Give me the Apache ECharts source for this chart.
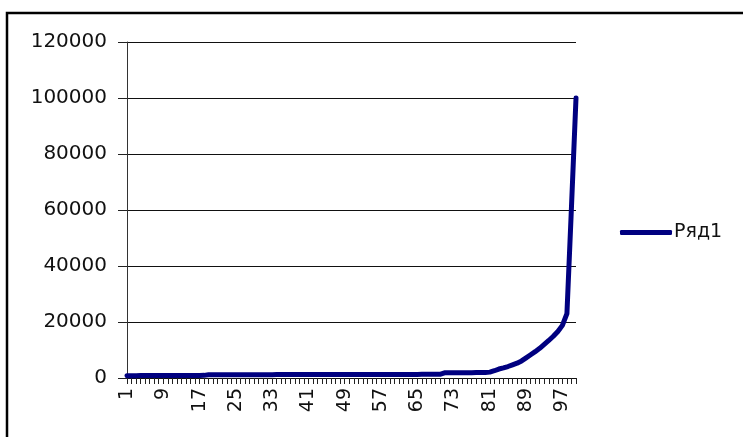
<!DOCTYPE html>
<html>
<head>
<meta charset="utf-8">
<script src="https://cdn.jsdelivr.net/npm/echarts@6/dist/echarts.min.js"></script>
<style>
  html, body { margin: 0; padding: 0; background: #fff; }
  #chart { width: 743px; height: 437px; }
</style>
</head>
<body>
<div id="chart"></div>
<script>
// Category labels (sample number)
const categories = [
  '1','2','3','4','5','6','7','8','9','10',
  '11','12','13','14','15','16','17','18','19','20',
  '21','22','23','24','25','26','27','28','29','30',
  '31','32','33','34','35','36','37','38','39','40',
  '41','42','43','44','45','46','47','48','49','50',
  '51','52','53','54','55','56','57','58','59','60',
  '61','62','63','64','65','66','67','68','69','70',
  '71','72','73','74','75','76','77','78','79','80',
  '81','82','83','84','85','86','87','88','89','90',
  '91','92','93','94','95','96','97','98','99','100'
];

// Series "Ряд1"
const seriesName = 'Ряд1';
const values = [
  820, 830, 840, 850, 850, 860, 870, 870, 880, 890,
  890, 900, 900, 910, 920, 920, 930, 940, 1150, 1150,
  1160, 1160, 1170, 1170, 1170, 1180, 1180, 1190, 1190, 1190,
  1200, 1200, 1200, 1210, 1210, 1210, 1220, 1220, 1220, 1230,
  1230, 1230, 1240, 1240, 1240, 1250, 1250, 1250, 1250, 1260,
  1260, 1260, 1260, 1270, 1270, 1270, 1270, 1280, 1280, 1280,
  1280, 1290, 1290, 1290, 1290, 1300, 1300, 1300, 1300, 1310,
  1850, 1860, 1870, 1880, 1890, 1900, 1910, 1920, 1940, 1950,
  2100, 2600, 3200, 3600, 4100, 4700, 5300, 6100, 7200, 8300,
  9400, 10600, 12000, 13400, 14900, 16600, 18800, 23000, 61000, 100000
];

// Value axis ticks
const yMin = 0;
const yMax = 120000;
const yStep = 20000;

const font = 'DejaVu Sans';
const chart = echarts.init(document.getElementById('chart'), null, { renderer: 'canvas' });

chart.setOption({
  animation: false,
  backgroundColor: '#fff',
  grid: { left: 127, right: 167, top: 42, bottom: 59, containLabel: false },
  legend: {
    data: [{ name: seriesName, icon: 'roundRect' }],
    orient: 'vertical',
    left: 615,
    top: 218,
    itemWidth: 52,
    itemHeight: 5,
    itemStyle: { color: '#000080' },
    textStyle: { fontFamily: font, fontSize: 19, color: '#111', padding: [0, 0, 0, -3] }
  },
  xAxis: {
    type: 'category',
    data: categories,
    boundaryGap: false,
    axisLine: { show: true, lineStyle: { color: '#111', width: 1 } },
    axisTick: { show: true, interval: 0, length: 6, lineStyle: { color: '#222', width: 1 } },
    axisLabel: {
      interval: 7,
      rotate: 90,
      margin: 10,
      fontFamily: font,
      fontSize: 19,
      color: '#111'
    },
    splitLine: { show: false }
  },
  yAxis: {
    type: 'value',
    min: yMin,
    max: yMax,
    interval: yStep,
    axisLine: { show: true, lineStyle: { color: '#333', width: 1 } },
    axisTick: { show: true, length: 9, lineStyle: { color: '#222', width: 1 } },
    axisLabel: {
      margin: 20,
      fontFamily: font,
      fontSize: 20,
      color: '#111',
      formatter: v => String(v)
    },
    splitLine: { show: true, lineStyle: { color: '#111', width: 1 } }
  },
  series: [{
    name: seriesName,
    type: 'line',
    data: values,
    symbol: 'none',
    smooth: false,
    lineStyle: { color: '#000080', width: 5, cap: 'round', join: 'round' },
    itemStyle: { color: '#000080' }
  }],
  graphic: [{
    type: 'rect',
    shape: { x: 7, y: 13, width: 760, height: 460 },
    style: { fill: 'none', stroke: '#000', lineWidth: 2.5 },
    silent: true,
    z: 100
  }]
});
</script>
</body>
</html>
